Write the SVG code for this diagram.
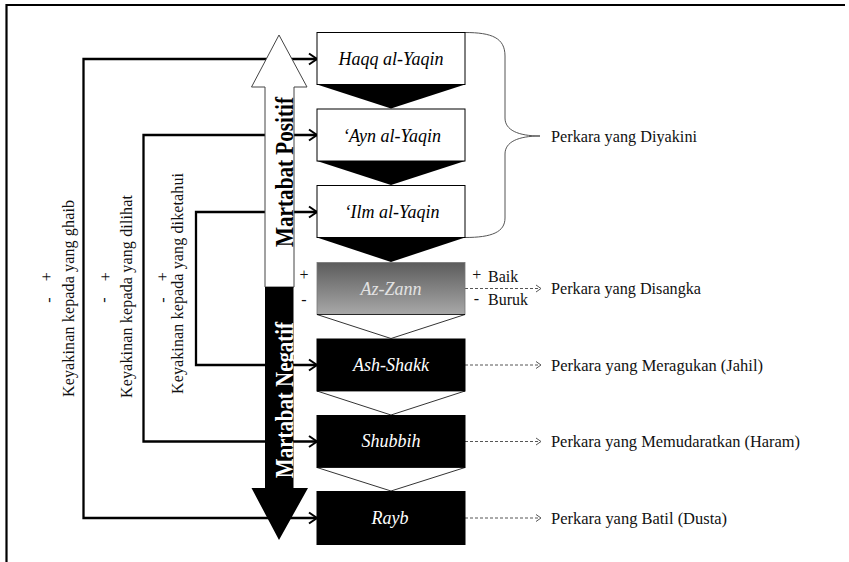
<svg xmlns="http://www.w3.org/2000/svg" width="849" height="562" viewBox="0 0 849 562">
<style>
text{font-family:"Liberation Serif","Times New Roman",Times,"DejaVu Serif",serif}
.conn{fill:none;stroke:#000;stroke-width:2.3}
.dash{fill:none;stroke:#555;stroke-width:1;stroke-dasharray:3 2}
.dhead{fill:none;stroke:#555;stroke-width:1}
.lbl{font-style:italic;font-size:18px;text-anchor:middle}
.txt{font-size:16px;fill:#111}
.rtxt{font-size:17px;fill:#111}
.big{font-weight:bold;font-size:25px;text-anchor:middle}
.mid{text-anchor:middle}
</style>
<defs>
<marker id="ah" markerUnits="userSpaceOnUse" markerWidth="14" markerHeight="14" viewBox="-10 -7 12 14" refX="0" refY="0" orient="auto-start-reverse">
<path d="M-8,-5.5 L0,0 L-8,5.5" fill="none" stroke="#000" stroke-width="2"/>
</marker>
<linearGradient id="gz" x1="0" y1="0" x2="0" y2="1">
<stop offset="0" stop-color="#5c5c5c"/>
<stop offset="1" stop-color="#a8a8a8"/>
</linearGradient>
</defs>
<rect width="849" height="562" fill="#fff"/>
<g id="frame" fill="none" stroke="#000" stroke-width="2.2">
<path d="M6.5,562 V5 H845"/>
</g>

<g id="connectors">
<path class="conn" d="M317,59 H83.5 V518 H317" marker-start="url(#ah)" marker-end="url(#ah)"/>
<path class="conn" d="M317,135 H143.5 V441.5 H317" marker-start="url(#ah)" marker-end="url(#ah)"/>
<path class="conn" d="M317,212 H196 V365 H317" marker-start="url(#ah)" marker-end="url(#ah)"/>
<path class="dash" d="M465,288.5 H540"/>
<path class="dhead" d="M536,285 L541,288.5 L536,292"/>
<path class="dash" d="M465,365 H540"/>
<path class="dhead" d="M536,361.5 L541,365 L536,368.5"/>
<path class="dash" d="M465,441.5 H540"/>
<path class="dhead" d="M536,438 L541,441.5 L536,445"/>
<path class="dash" d="M465,518 H540"/>
<path class="dhead" d="M536,514.5 L541,518 L536,521.5"/>
<path d="M465,32.5 C492,32.5 505,38 505,56 L505,118 C505,130 518,136 540,136 C518,136 505,142 505,154 L505,218 C505,232 492,237.5 465,237.5" fill="none" stroke="#555" stroke-width="1"/>
</g>

<g id="arrow-positif">
<path d="M279,35 L307,87 L294,87 L294,287 L265,287 L265,87 L251.5,87 Z" fill="#fff" stroke="#444" stroke-width="1"/>
<text class="big" fill="#000" transform="translate(292.5,172) rotate(-90)" textLength="150" lengthAdjust="spacingAndGlyphs">Martabat Positif</text>
</g>
<g id="arrow-negatif">
<path d="M265,287 L293.5,287 L293.5,488 L308,488 L279,540 L251.5,488 L265,488 Z" fill="#000"/>
<text class="big" fill="#fff" transform="translate(292.5,400) rotate(-90)" textLength="156" lengthAdjust="spacingAndGlyphs">Martabat Negatif</text>
</g>

<g id="haqq">
<rect x="317" y="32.5" width="148" height="52" fill="#fff" stroke="#000" stroke-width="1"/>
<polygon points="317,84.5 465,84.5 391,108.5" fill="#000"/>
<text class="lbl" x="391" y="65">Haqq al-Yaqin</text>
</g>
<g id="ayn">
<rect x="317" y="109" width="148" height="52" fill="#fff" stroke="#000" stroke-width="1"/>
<polygon points="317,161 465,161 391,185" fill="#000"/>
<text class="lbl" x="392" y="141.5">‘Ayn al-Yaqin</text>
</g>
<g id="ilm">
<rect x="317" y="185.5" width="148" height="52" fill="#fff" stroke="#000" stroke-width="1"/>
<polygon points="317,237.5 465,237.5 391,262" fill="#000"/>
<text class="lbl" x="392" y="218">‘Ilm al-Yaqin</text>
</g>
<g id="zann">
<rect x="317" y="262.5" width="148" height="52" fill="url(#gz)" stroke="#777" stroke-width="0.8"/>
<polygon points="317,314.5 465,314.5 391,338.5" fill="#fff" stroke="#000" stroke-width="0.8"/>
<text class="lbl" x="391" y="295" fill="#e2e2e2">Az-Zann</text>
</g>
<g id="shakk">
<rect x="317" y="339" width="148" height="52" fill="#000" stroke="#000" stroke-width="1"/>
<polygon points="317,391 465,391 391,415" fill="#fff" stroke="#000" stroke-width="0.8"/>
<text class="lbl" x="391" y="370.5" fill="#fff">Ash-Shakk</text>
</g>
<g id="shubbih">
<rect x="317" y="415.5" width="148" height="52" fill="#000" stroke="#000" stroke-width="1"/>
<polygon points="317,467.5 465,467.5 391,491" fill="#fff" stroke="#000" stroke-width="0.8"/>
<text class="lbl" x="391" y="447" fill="#fff">Shubbih</text>
</g>
<g id="rayb">
<rect x="317" y="491.5" width="148" height="53" fill="#000" stroke="#000" stroke-width="1"/>
<text class="lbl" x="390" y="523.5" fill="#fff">Rayb</text>
</g>

<g id="left-labels">
<text class="txt" transform="translate(73.8,397) rotate(-90)" textLength="197" lengthAdjust="spacing">Keyakinan kepada yang ghaib</text>
<text class="txt mid" transform="translate(52.3,276.7) rotate(-90)">+</text>
<text class="txt mid" transform="translate(53.7,300) rotate(-90)">-</text>
<text class="txt" transform="translate(131.5,398) rotate(-90)" textLength="203" lengthAdjust="spacing">Keyakinan kepada yang dilihat</text>
<text class="txt mid" transform="translate(110.5,276.7) rotate(-90)">+</text>
<text class="txt mid" transform="translate(109,300) rotate(-90)">-</text>
<text class="txt" transform="translate(183,394) rotate(-90)" textLength="221" lengthAdjust="spacing">Keyakinan kepada yang diketahui</text>
<text class="txt mid" transform="translate(168,276.7) rotate(-90)">+</text>
<text class="txt mid" transform="translate(167.5,300) rotate(-90)">-</text>
</g>

<g id="signs">
<text class="txt mid" x="304" y="280">+</text>
<text class="txt mid" x="304" y="305.4">-</text>
<text class="txt mid" x="476.7" y="280">+</text>
<text class="txt mid" x="476.5" y="303.7">-</text>
<text class="txt" x="488" y="282">Baik</text>
<text class="txt" x="488" y="305">Buruk</text>
</g>

<g id="right-labels">
<text class="rtxt" x="551" y="141.7" textLength="146" lengthAdjust="spacingAndGlyphs">Perkara yang Diyakini</text>
<text class="rtxt" x="551" y="293.8" textLength="150" lengthAdjust="spacingAndGlyphs">Perkara yang Disangka</text>
<text class="rtxt" x="551" y="370.5" textLength="212" lengthAdjust="spacingAndGlyphs">Perkara yang Meragukan (Jahil)</text>
<text class="rtxt" x="551" y="447" textLength="249" lengthAdjust="spacingAndGlyphs">Perkara yang Memudaratkan (Haram)</text>
<text class="rtxt" x="551" y="523.5" textLength="176" lengthAdjust="spacingAndGlyphs">Perkara yang Batil (Dusta)</text>
</g>
</svg>
